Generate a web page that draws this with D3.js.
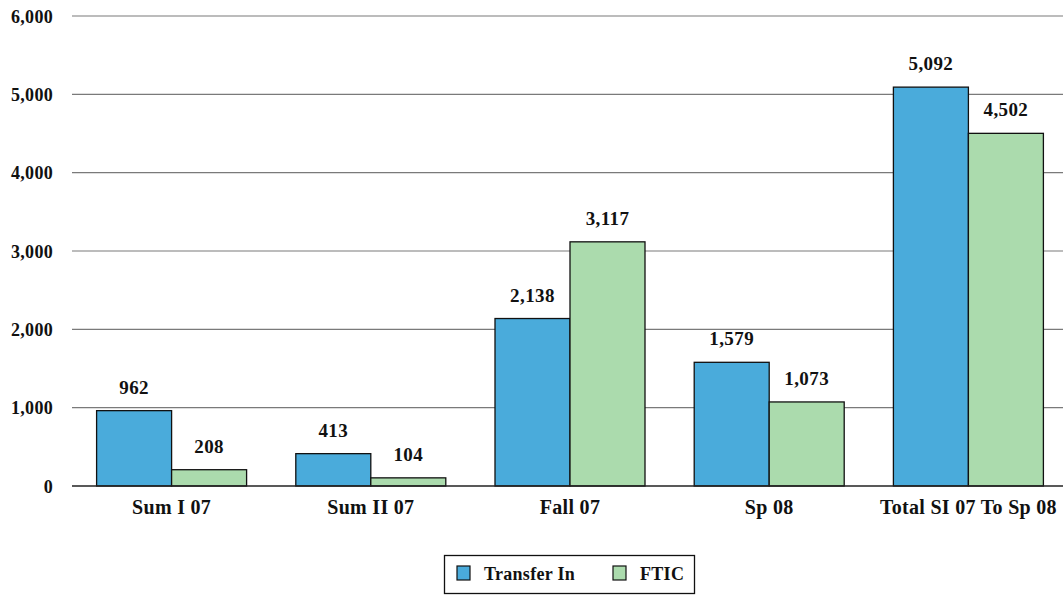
<!DOCTYPE html>
<html><head><meta charset="utf-8">
<script src="https://cdn.jsdelivr.net/npm/d3@7"></script>
<style>body{margin:0;background:#fff}svg{display:block}text{font-family:"Liberation Serif","DejaVu Serif",serif;font-weight:bold;fill:#111}</style>
</head><body><svg id="c" width="1063" height="595"></svg>
<script>
const categories = ["Sum I 07","Sum II 07","Fall 07","Sp 08","Total SI 07 To Sp 08"];
const transferIn = [962,413,2138,1579,5092];
const ftic = [208,104,3117,1073,4502];
const seriesNames = ["Transfer In","FTIC"];
const tickValues = [0,1000,2000,3000,4000,5000,6000];
const colors = ["#4aabdb","#abdbad"];

const svg = d3.select("#c");
const m = {l:72, r:1068, t:16, b:486};
const x = d3.scaleBand().domain(categories).range([m.l, m.r]).paddingInner(0.247).paddingOuter(0.1235);
const xs = d3.scaleBand().domain(seriesNames).range([0, x.bandwidth()]);
const y = d3.scaleLinear().domain([0,6000]).range([m.b, m.t]);
const fmt = d3.format(",");

// grid
svg.append("g").selectAll("line").data(tickValues.filter(d=>d>0)).join("line")
  .attr("x1", m.l).attr("x2", m.r).attr("y1", d=>y(d)).attr("y2", d=>y(d))
  .attr("stroke","#7a7a7a").attr("stroke-width",1.2);

// y axis labels
const ya = svg.append("g").attr("transform",`translate(${m.l-19},0)`)
  .call(d3.axisLeft(y).tickValues(tickValues).tickFormat(fmt).tickSize(0).tickPadding(0));
ya.select(".domain").remove();
ya.selectAll("text").attr("font-size",18).attr("dy","0.35em").attr("letter-spacing","0.3px");

const data = categories.map((c,i)=>({c, vals:[transferIn[i], ftic[i]]}));
const g = svg.append("g").selectAll("g").data(data).join("g")
  .attr("transform", d=>`translate(${x(d.c)},0)`);
g.selectAll("rect").data(d=>d.vals.map((v,j)=>({v, s:seriesNames[j], j}))).join("rect")
  .attr("x", d=>xs(d.s)).attr("width", xs.bandwidth())
  .attr("y", d=>y(d.v)).attr("height", d=>y(0)-y(d.v))
  .attr("fill", d=>colors[d.j]).attr("stroke","#111").attr("stroke-width",1.3);
g.selectAll("text.v").data(d=>d.vals.map((v,j)=>({v, s:seriesNames[j]}))).join("text")
  .attr("class","v").attr("x", d=>xs(d.s)+xs.bandwidth()/2).attr("y", d=>y(d.v)-17)
  .attr("text-anchor","middle").attr("font-size",19).attr("letter-spacing","0.4px").text(d=>fmt(d.v));

// zero line
svg.append("line").attr("x1",m.l).attr("x2",m.r).attr("y1",y(0)).attr("y2",y(0))
  .attr("stroke","#222").attr("stroke-width",1.5);

// x axis
const xa = svg.append("g").attr("transform",`translate(0,${m.b})`)
  .call(d3.axisBottom(x).tickSize(0).tickPadding(0));
xa.select(".domain").remove();
xa.selectAll("text").attr("font-size",20).attr("dy",null).attr("y",28).attr("letter-spacing","0.3px");

// legend
const lg = svg.append("g");
lg.append("rect").attr("x",444.5).attr("y",555.5).attr("width",250).attr("height",38)
  .attr("fill","#fff").attr("stroke","#111").attr("stroke-width",1.3);
const lx = [457, 613];
seriesNames.forEach((s,i)=>{
  lg.append("rect").attr("x",lx[i]).attr("y",566).attr("width",13).attr("height",14)
    .attr("fill",colors[i]).attr("stroke","#111").attr("stroke-width",1.2);
  lg.append("text").attr("x",lx[i]+27).attr("y",580).attr("font-size",18).attr("letter-spacing","0.3px").text(s);
});
</script></body></html>
